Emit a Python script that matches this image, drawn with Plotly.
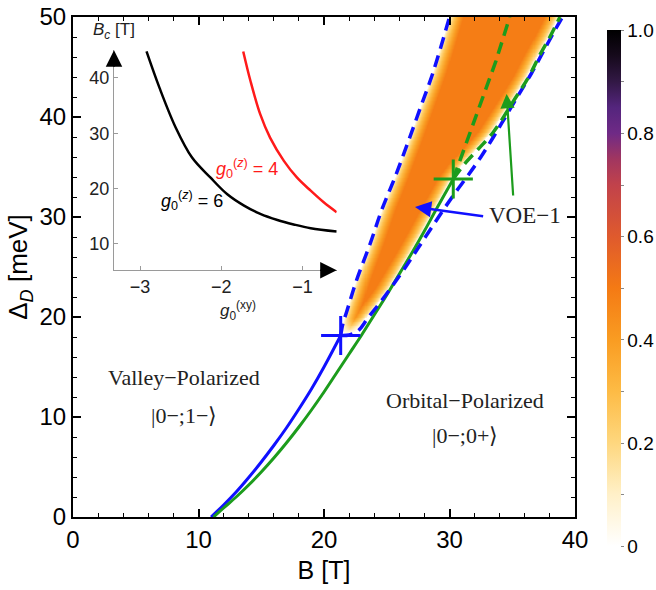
import numpy as np
import plotly.graph_objects as go

# ---------------- data ----------------
# main phase-boundary lines  (B [T], Delta_D [meV])
blue_solid_B = [11.0, 12.0, 13.0, 14.0, 15.0, 16.0, 17.0, 18.0, 19.0, 20.0, 21.33]
blue_solid_D = [0.0, 1.2, 2.5, 3.95, 5.5, 7.15, 8.9, 10.8, 12.8, 15.0, 18.15]

green_solid_B = [11.2, 12.0, 13.0, 14.0, 15.0, 16.0, 17.0, 18.0, 19.0, 20.0, 21.0, 22.0,
                 23.0, 24.0, 25.0, 26.0, 27.0, 28.0, 29.0, 30.3]
green_solid_D = [0.0, 0.9, 2.0, 3.2, 4.5, 5.9, 7.4, 9.0, 10.7, 12.5, 14.4, 16.3,
                 18.2, 20.2, 22.2, 24.3, 26.4, 28.6, 30.9, 33.8]

blue_left_B = [21.33, 21.5, 21.8, 22.6, 23.67, 24.6, 25.66, 26.7, 27.7, 28.7, 30.0]
blue_left_D = [18.15, 19.3, 20.5, 23.7, 27.3, 30.7, 34.0, 37.5, 41.0, 44.5, 50.0]

blue_right_B = [21.33, 22.0, 22.7, 23.5, 24.5, 25.5, 26.5, 27.5, 28.5, 29.5, 30.5, 31.5,
                32.5, 33.5, 34.5, 35.5, 36.5, 37.5, 38.5, 39.0]
blue_right_D = [18.15, 18.2, 18.6, 19.9, 21.5, 23.2, 25.0, 26.9, 28.8, 30.7, 32.5, 34.2,
                36.0, 38.0, 40.1, 42.2, 44.3, 46.6, 48.9, 50.0]

green_mid_B = [30.3, 31.4, 32.5, 33.7, 34.8]
green_mid_D = [33.8, 37.6, 41.4, 45.6, 50.0]

green_right_B = [30.3, 31.2, 32.3, 33.5, 35.2, 36.3, 37.2, 38.0, 38.8]
green_right_D = [33.8, 35.3, 36.8, 38.5, 41.8, 44.0, 46.2, 48.0, 50.0]

cross_B = [21.33, 30.3]
cross_D = [18.15, 33.8]
cross_colors = ["#1010ff", "#1c9c1c"]

band_peak = 0.49          # colour value in the middle of the VOE-1 band

# inset: critical field B_c vs g0^(xy)
inset_g6_x = [-2.92, -2.76, -2.56, -2.36, -2.135, -1.93, -1.72, -1.52, -1.31, -1.11, -0.90, -0.58]
inset_g6_y = [44.8, 38.2, 31.0, 25.6, 22.0, 19.0, 16.9, 15.4, 14.3, 13.5, 12.8, 12.2]
inset_g4_x = [-1.73, -1.64, -1.52, -1.40, -1.23, -1.07, -0.90, -0.74, -0.58]
inset_g4_y = [44.8, 39.4, 33.4, 29.2, 25.0, 22.0, 19.6, 17.5, 15.7]

main_xticks = [0, 10, 20, 30, 40]
main_yticks = [0, 10, 20, 30, 40, 50]
inset_xticks = [-3, -2, -1]
inset_yticks = [10, 20, 30, 40]
cbar_tickvals = [0, 0.1, 0.2, 0.3, 0.4, 0.5, 0.6, 0.7, 0.8, 0.9, 1.0]
cbar_ticktext = ["0", "", "0.2", "", "0.4", "", "0.6", "", "0.8", "", "1.0"]

# ---------------- band heat map built from the boundary lines ----------------
Bg = np.arange(20.0, 40.0001, 0.04)
Dg = np.arange(18.0, 50.0001, 0.08)
L = np.interp(Dg, blue_left_D, blue_left_B)
R1 = np.interp(Dg, blue_right_D, blue_right_B)
R2 = np.interp(Dg, green_solid_D, green_solid_B, right=np.inf)
R3 = np.interp(Dg, green_right_D, green_right_B, left=np.inf)
R = np.minimum(np.minimum(R1, R2), R3) - 0.15
BB, _ = np.meshgrid(Bg, Dg)
d = np.minimum(BB - L[:, None], R[:, None] - BB)
z = band_peak * np.clip(d / 1.1, 0, 1) ** 0.6
z = z * np.clip((Dg[:, None] - 18.4) / 1.5, 0, 1) ** 0.6
z = np.where(d > 0, z, np.nan)
z = np.where(Dg[:, None] > 18.4, z, np.nan)

colorscale = [[0.0, "#ffffff"], [0.1, "#fff0c8"], [0.2, "#fed77e"], [0.3, "#fdbb45"],
              [0.4, "#f99c22"], [0.5, "#f47a14"], [0.6, "#df5a2d"], [0.7, "#c1424b"],
              [0.75, "#a13660"], [0.8, "#6f2a86"], [0.85, "#54257d"], [0.9, "#321845"],
              [0.95, "#160a1c"], [1.0, "#000000"]]

fig = go.Figure()

fig.add_trace(go.Heatmap(
    x=Bg, y=Dg, z=z, zmin=0, zmax=1, colorscale=colorscale, hoverinfo="skip",
    colorbar=dict(x=(607 - 73) / 502, xanchor="left", xpad=0, ypad=0, thickness=14, thicknessmode="pixels",
                  len=516, lenmode="pixels", y=(516.7 - 288) / 500, yanchor="middle",
                  tickvals=cbar_tickvals, ticktext=cbar_ticktext, ticks="outside",
                  ticklen=3, tickcolor="#888", tickwidth=1, outlinewidth=0,
                  tickfont=dict(size=19, family="Liberation Sans", color="black"))))

BLUE = "#1010ff"
GREEN = "#1c9c1c"
dash = "12px,7px"

fig.add_trace(go.Scatter(x=blue_solid_B, y=blue_solid_D, mode="lines", line=dict(color=BLUE, width=3, shape="spline")))
fig.add_trace(go.Scatter(x=green_solid_B, y=green_solid_D, mode="lines", line=dict(color=GREEN, width=3, shape="spline")))
fig.add_trace(go.Scatter(x=blue_left_B, y=blue_left_D, mode="lines", line=dict(color=BLUE, width=3.5, dash=dash, shape="spline")))
fig.add_trace(go.Scatter(x=blue_right_B, y=blue_right_D, mode="lines", line=dict(color=BLUE, width=3.5, dash=dash, shape="spline")))
fig.add_trace(go.Scatter(x=green_mid_B, y=green_mid_D, mode="lines", line=dict(color=GREEN, width=3.5, dash=dash)))
fig.add_trace(go.Scatter(x=green_right_B, y=green_right_D, mode="lines", line=dict(color=GREEN, width=3.5, dash=dash, shape="spline")))
fig.add_trace(go.Scatter(x=cross_B, y=cross_D, mode="markers",
                         marker=dict(symbol="cross-thin", size=28, color=cross_colors,
                                     line=dict(color=cross_colors, width=3))))

# inset curves
fig.add_trace(go.Scatter(x=inset_g6_x, y=inset_g6_y, xaxis="x2", yaxis="y2", mode="lines",
                         line=dict(color="black", width=2.5, shape="spline")))
fig.add_trace(go.Scatter(x=inset_g4_x, y=inset_g4_y, xaxis="x2", yaxis="y2", mode="lines",
                         line=dict(color="#ff1a1a", width=2.5, shape="spline")))

TF = "Liberation Sans"
SERIF = "Liberation Serif"
ann = []
# region labels
ann += [dict(x=8.85, y=14.0, text="Valley\u2212Polarized", showarrow=False, font=dict(family=SERIF, size=22, color="#222")),
        dict(x=8.85, y=10.2, text="|0\u2212;1\u2212\u27e9", showarrow=False, font=dict(family=SERIF, size=22, color="#222")),
        dict(x=31.2, y=11.7, text="Orbital\u2212Polarized", showarrow=False, font=dict(family=SERIF, size=22, color="#222")),
        dict(x=31.2, y=8.2, text="|0\u2212;0+\u27e9", showarrow=False, font=dict(family=SERIF, size=22, color="#222")),
        dict(x=32.95, y=30.2, text="VOE\u22121", showarrow=False, xanchor="left", font=dict(family=SERIF, size=23, color="#222"))]
# arrows
ann += [dict(x=27.25, y=31.0, ax=32.8, ay=30.05, axref="x", ayref="y", text="", showarrow=True,
             arrowhead=2, arrowsize=1.3, arrowwidth=2.5, arrowcolor=BLUE),
        dict(x=34.55, y=42.3, ax=35.08, ay=32.0, axref="x", ayref="y", text="", showarrow=True,
             arrowhead=2, arrowsize=1.3, arrowwidth=2.2, arrowcolor=GREEN)]
# inset texts and axis arrowheads
ann += [dict(x=1, y=0, xref="x2 domain", yref="y2 domain", ax=-18, ay=0, text="", showarrow=True,
             arrowhead=2, arrowsize=2.2, arrowwidth=1.5, arrowcolor="black"),
        dict(x=0, y=1, xref="x2 domain", yref="y2 domain", ax=0, ay=18, text="", showarrow=True,
             arrowhead=2, arrowsize=2.2, arrowwidth=1.5, arrowcolor="black"),
        dict(x=-3.32, y=1, xref="x2", yref="y2 domain", text="<i>B<sub>c</sub></i> [T]", showarrow=False,
             yanchor="bottom", yshift=6, font=dict(family=TF, size=17, color="#222")),
        dict(x=-1.8, y=0, xref="x2", yref="y2 domain", text="<i>g</i><sub>0</sub><sup>(xy)</sup>", showarrow=False,
             yanchor="top", yshift=-26, font=dict(family=TF, size=17, color="#222")),
        dict(x=-2.36, y=17.8, xref="x2", yref="y2", text="<i>g</i><sub>0</sub><sup>(<i>z</i>)</sup> = 6", showarrow=False,
             font=dict(family=TF, size=18, color="black")),
        dict(x=-1.68, y=23.7, xref="x2", yref="y2", text="<i>g</i><sub>0</sub><sup>(<i>z</i>)</sup> = 4", showarrow=False,
             font=dict(family=TF, size=18, color="#ff1a1a"))]

axis_common = dict(showline=True, linecolor="black", linewidth=2, mirror="allticks", ticks="inside",
                   ticklen=8, tickwidth=1.5, tickcolor="black", showgrid=False, zeroline=False,
                   tickfont=dict(family=TF, size=24, color="black"))

fig.update_layout(
    width=656, height=590, margin=dict(l=73, r=81, t=17, b=73, autoexpand=False),
    paper_bgcolor="white", plot_bgcolor="white", showlegend=False,
    xaxis=dict(range=[0, 40], tickvals=main_xticks,
               minor=dict(ticks="inside", ticklen=4, tickwidth=1.2, dtick=2, tickcolor="black"),
               title=dict(text="B [T]", font=dict(family=TF, size=25, color="black"), standoff=10),
               **axis_common),
    yaxis=dict(range=[0, 50], tickvals=main_yticks,
               minor=dict(ticks="inside", ticklen=4, tickwidth=1.2, dtick=2, tickcolor="black"),
               title=dict(text="\u0394<sub><i>D</i></sub> [meV]", font=dict(family=TF, size=26, color="black"), standoff=4),
               **axis_common),
    xaxis2=dict(domain=[(114 - 73) / 502, (336.7 - 73) / 502], anchor="y2", range=[-3.32, -0.58],
                tickvals=inset_xticks, showline=True, linecolor="#9a9a9a", linewidth=1, ticks="inside",
                ticklen=4, tickcolor="#9a9a9a", showgrid=False, zeroline=False,
                tickfont=dict(family=TF, size=18, color="#222")),
    yaxis2=dict(domain=[(516.7 - 270) / 500, (516.7 - 50) / 500], anchor="x2", range=[5.2, 45],
                tickvals=inset_yticks, showline=True, linecolor="#9a9a9a", linewidth=1, ticks="inside",
                ticklen=4, tickcolor="#9a9a9a", showgrid=False, zeroline=False,
                tickfont=dict(family=TF, size=18, color="#222")),
    annotations=ann,
)

fig.write_html("out.html", config={"displayModeBar": False},
               post_script="document.body.style.margin='0px';document.body.style.overflow='hidden';")
